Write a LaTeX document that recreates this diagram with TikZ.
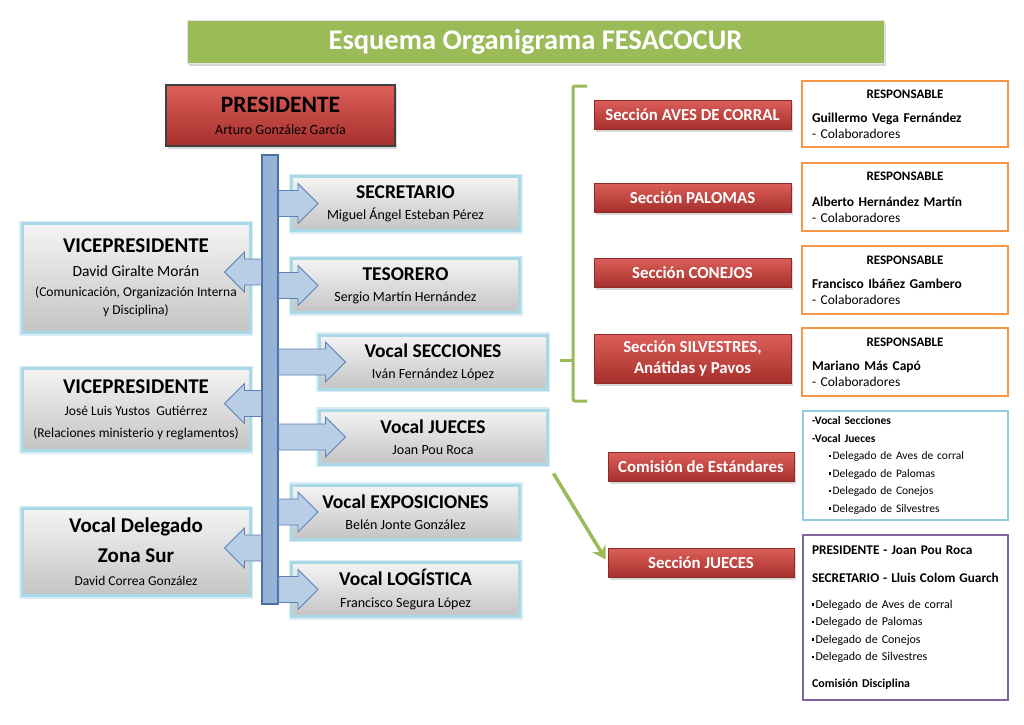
\documentclass[tikz,border=0pt]{standalone}
\usepackage{fontspec}
\setmainfont{Carlito}
\usetikzlibrary{calc,shadows,arrows.meta}

\definecolor{titlegreen}{HTML}{9BBB59}
\definecolor{redtop}{HTML}{DC5F5A}
\definecolor{redbot}{HTML}{A62F2B}
\definecolor{redline}{HTML}{8E2A27}
\definecolor{graytop}{HTML}{F4F4F4}
\definecolor{graybot}{HTML}{C4C4C4}
\definecolor{glowcyan}{HTML}{A9D8E6}
\definecolor{barfill}{HTML}{95B3D7}
\definecolor{barline}{HTML}{4A6FA0}
\definecolor{arrfill}{HTML}{B9CDE5}
\definecolor{arrline}{HTML}{5B82B8}
\definecolor{respor}{HTML}{F79646}
\definecolor{comcyan}{HTML}{93CDDD}
\definecolor{juepurple}{HTML}{8064A2}

\newcommand{\ltitle}{\fontsize{21}{21}\selectfont\bfseries}
\newcommand{\rtitle}{\fontsize{19.5}{21}\selectfont\bfseries}
\newcommand{\resphead}{\makebox[\hsize]{\fontsize{13}{16}\selectfont\bfseries RESPONSABLE}}
\newcommand{\sqbul}{\raisebox{2.6pt}{\rule{2.4pt}{2.4pt}}\hspace{1.2pt}}

\newcommand{\blockarrow}[2]{%
  \draw[blockarr] let \p1=(#1), \p2=(#2), \n1={ifthenelse(\x2>\x1,20,-20)} in
    (\x1,{\y2-13pt}) -- ({\x2-(\n1)},{\y2-13pt}) -- ({\x2-(\n1)},{\y2-20pt}) -- (\x2,\y2)
    -- ({\x2-(\n1)},{\y2+20pt}) -- ({\x2-(\n1)},{\y2+13pt}) -- (\x1,{\y2+13pt}) -- cycle;}

\tikzset{
  shadowed/.style={drop shadow={opacity=0.3,shadow xshift=1.5pt,shadow yshift=-2.5pt}},
  titlebox/.style={shadowed, fill=titlegreen, draw=white!80!gray, line width=1,
    minimum width=697, minimum height=43, text=white, font=\fontsize{28.5}{28.5}\selectfont\bfseries},
  presbox/.style={shadowed, top color=redtop, bottom color=redbot, draw=black!75, line width=1.5,
    minimum width=229, minimum height=61, inner sep=0, align=center, font=\fontsize{14}{22}\selectfont},
  graybox/.style={shadowed, preaction={draw=glowcyan!45, line width=6}, draw=glowcyan, line width=3,
    top color=graytop, bottom color=graybot, minimum width=228, minimum height=54, inner sep=0,
    align=center, font=\fontsize{14}{21}\selectfont},
  barbox/.style={fill=barfill, draw=barline, line width=1.2, minimum width=16, minimum height=449, inner sep=0},
  blockarr/.style={fill=arrfill, draw=arrline, line width=0.8},
  redbox/.style={shadowed, top color=redtop, bottom color=redbot, draw=redline, line width=0.6,
    minimum width=197, minimum height=29, inner sep=0, align=center, text=white,
    font=\fontsize{16.8}{21}\selectfont\bfseries},
  respbox/.style={draw=respor, line width=2.5, minimum width=206, minimum height=68, text width=186,
    inner xsep=10, inner ysep=0, align=left, font=\fontsize{13.5}{16}\selectfont},
  listbox/.style={line width=2, minimum width=205, text width=187, inner xsep=9, inner ysep=0,
    align=left, font=\fontsize{11.5}{17.5}\selectfont},
  bracket/.style={draw=titlegreen, line width=3, rounded corners=2},
  greenarr/.style={draw=titlegreen, line width=3.5, -{Stealth[length=13pt,width=15pt]}}
}

\begin{document}
\begin{tikzpicture}[x=1pt,y=-1pt]
\fill[white] (0,0) rectangle (1024,724);
\useasboundingbox (0,0) rectangle (1024,724);

% title
\node[titlebox] (title) at (535.5,41.5) {Esquema Organigrama FESACOCUR};

% presidente and bar
\node[presbox] (pres) at (280.5,115.5) {{\fontsize{23.5}{23}\selectfont\bfseries PRESIDENTE}\\ Arturo González García};
\node[barbox] (bar) at (270,379.5) {};

% right column
\node[graybox] (sec) at (405.5,203.5) {{\rtitle SECRETARIO}\\ Miguel Ángel Esteban Pérez};
\node[graybox] (tes) at (405.5,285.5) {{\rtitle TESORERO}\\ Sergio Martín Hernández};
\node[graybox] (vsec) at (433,362) {{\rtitle Vocal SECCIONES}\\ Iván Fernández López};
\node[graybox] (vjue) at (433,437) {{\rtitle Vocal JUECES}\\ Joan Pou Roca};
\node[graybox] (vexp) at (405.5,512) {{\rtitle Vocal EXPOSICIONES}\\ Belén Jonte González};
\node[graybox] (vlog) at (405.5,589.5) {{\rtitle Vocal LOGÍSTICA}\\ Francisco Segura López};

% left column
\node[graybox, minimum height=109, font=\fontsize{13.5}{20}\selectfont] (vp1) at (136,278)
  {{\ltitle VICEPRESIDENTE}\\[4pt] {\fontsize{15.5}{20}\selectfont David Giralte Morán}\\ (Comunicación, Organización Interna\\[-2pt] y Disciplina)};
\node[graybox, minimum height=82, font=\fontsize{13.5}{22}\selectfont] (vp2) at (136,409.5)
  {{\ltitle VICEPRESIDENTE}\\ José Luis Yustos~ Gutiérrez\\ (Relaciones ministerio y reglamentos)};
\node[graybox, minimum height=87, font=\fontsize{13.5}{23}\selectfont] (vdz) at (136,552)
  {{\ltitle Vocal Delegado}\\[7pt] {\ltitle Zona Sur}\\ David Correa González};

% block arrows from the bar
\blockarrow{bar.east}{$(sec.west)+(28,0)$}
\blockarrow{bar.east}{$(tes.west)+(28,0)$}
\blockarrow{bar.east}{$(vsec.west)+(28,0)$}
\blockarrow{bar.east}{$(vjue.west)+(28,0)$}
\blockarrow{bar.east}{$(vexp.west)+(28,0)$}
\blockarrow{bar.east}{$(vlog.west)+(28,0)$}
\blockarrow{bar.west}{$(vp1.east)+(-27,-6)$}
\blockarrow{bar.west}{$(vp2.east)+(-27,-6)$}
\blockarrow{bar.west}{$(vdz.east)+(-27,-4)$}

% sections
\node[redbox] (aves) at (692.5,114.5) {Sección AVES DE CORRAL};
\node[redbox] (palo) at (692.5,197.5) {Sección PALOMAS};
\node[redbox] (cone) at (692.5,272.5) {Sección CONEJOS};
\node[redbox, minimum height=49] (silv) at (692.5,358.5) {Sección SILVESTRES,\\ Anátidas y Pavos};
\node[redbox, minimum width=186] (comi) at (701,466.5) {Comisión de Estándares};
\node[redbox, minimum width=186] (sjue) at (701,562.5) {Sección JUECES};

% responsables
\node[respbox, minimum height=66] (r1) at (905,114) {\resphead\\[8pt] \textbf{Guillermo Vega Fernández}\\ - Colaboradores};
\node[respbox] (r2) at (905,197) {\resphead\\[10pt] \textbf{Alberto Hernández Martín}\\ - Colaboradores};
\node[respbox] (r3) at (905,280) {\resphead\\[8pt] \textbf{Francisco Ibáñez Gambero}\\ - Colaboradores};
\node[respbox] (r4) at (905,362) {\resphead\\[8pt] \textbf{Mariano Más Capó}\\ - Colaboradores};

\node[listbox, draw=comcyan, minimum height=109] (com) at (905.5,465.5)
  {\textbf{-Vocal Secciones}\\ \textbf{-Vocal Jueces}\\
   \hspace*{17pt}\sqbul Delegado de Aves de corral\\ \hspace*{17pt}\sqbul Delegado de Palomas\\
   \hspace*{17pt}\sqbul Delegado de Conejos\\ \hspace*{17pt}\sqbul Delegado de Silvestres};
\node[listbox, draw=juepurple, minimum height=165, font=\fontsize{12}{17.5}\selectfont] (jbox) at (905.5,617.5)
  {\mbox{\fontsize{13.3}{17.5}\selectfont\bfseries PRESIDENTE - Joan Pou Roca}\\[10.5pt]
   \mbox{\fontsize{13.3}{17.5}\selectfont\bfseries SECRETARIO - Lluis Colom Guarch}\\[8.5pt]
   \sqbul Delegado de Aves de corral\\ \sqbul Delegado de Palomas\\ \sqbul Delegado de Conejos\\ \sqbul Delegado de Silvestres\\[9.5pt]
   \textbf{Comisión Disciplina}};

% green bracket and arrow
\coordinate (brtip) at ($(vsec.east)+(11,-2)$);
\draw[bracket] (587,86) -| (573,401) -- (587,401);
\draw[bracket] (brtip) -- ++(14,0);
\draw[greenarr] ($(vjue.south east)+(5,8)$) -- ($(sjue.west)+(-2,-3)$);
\end{tikzpicture}
\end{document}
